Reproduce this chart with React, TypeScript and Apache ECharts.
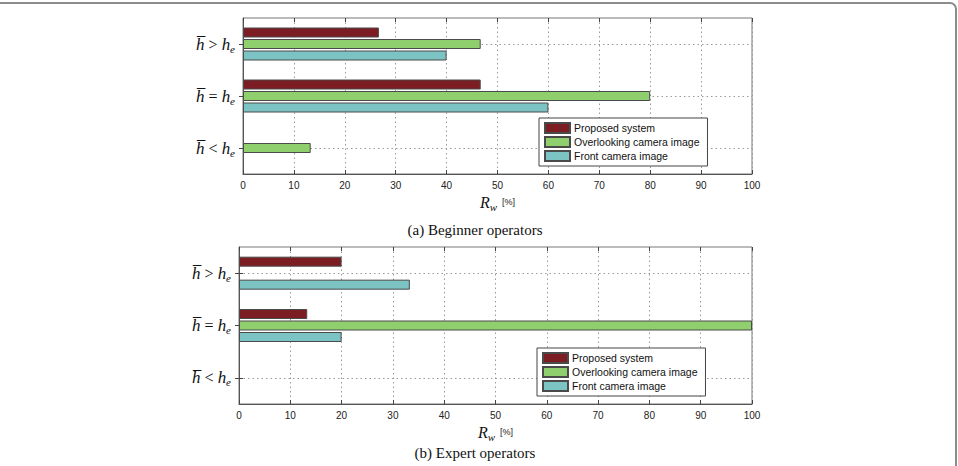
import React, { useEffect, useRef } from "react";
import * as echarts from "echarts";

// Relation between the operator's estimated height and the true height, top to bottom
const relations = [">", "=", "<"];
const seriesNames = ["Proposed system", "Overlooking camera image", "Front camera image"];
const xTicks = [0, 100, 10]; // min, max, step of R_w [%]

// R_w [%] for beginner operators (order follows `relations`)
const beginnerProposed = [26.7, 46.7, 0];
const beginnerOverlooking = [46.7, 80, 13.3];
const beginnerFront = [40, 60, 0];

// R_w [%] for expert operators
const expertProposed = [20, 13.3, 0];
const expertOverlooking = [0, 100, 0];
const expertFront = [33.3, 20, 0];

const captions = ["(a) Beginner operators", "(b) Expert operators"];

const colors = ["#7b1d22", "#8fcf6e", "#7cc3c4"];
const SERIF = "'Liberation Serif', 'DejaVu Serif', serif";
const SANS = "'Liberation Sans', Arial, sans-serif";

const catRich = {
  h: { fontFamily: SERIF, fontStyle: "italic", fontSize: 17, lineHeight: 20, color: "#111" },
  o: { fontFamily: SERIF, fontSize: 16, lineHeight: 20, color: "#111" },
  e: { fontFamily: SERIF, fontStyle: "italic", fontSize: 11, lineHeight: 11, verticalAlign: "bottom", color: "#111" },
};

const nameRich = {
  r: { fontFamily: SERIF, fontStyle: "italic", fontSize: 16, lineHeight: 20, color: "#111" },
  w: { fontFamily: SERIF, fontStyle: "italic", fontSize: 11, lineHeight: 11, verticalAlign: "bottom", color: "#111" },
  p: { fontFamily: SANS, fontSize: 9, lineHeight: 20, color: "#222" },
};

export default function App() {
  const ref = useRef<HTMLDivElement>(null);

  useEffect(() => {
    if (!ref.current) return;
    const chart = echarts.init(ref.current, undefined, { renderer: "svg" });

    const grids = [
      { left: 243, top: 18, width: 509, height: 156 },
      { left: 239, top: 247, width: 513, height: 157 },
    ];

    const xAxes: any[] = [];
    const yAxes: any[] = [];
    grids.forEach((_, gi) => {
      xAxes.push({
        gridIndex: gi,
        type: "value",
        min: xTicks[0],
        max: xTicks[1],
        interval: xTicks[2],
        name: "{r|R}{w|w}{p|  [%]}",
        nameLocation: "middle",
        nameGap: 18,
        nameTextStyle: { rich: nameRich },
        axisLine: { show: true, lineStyle: { color: "#555", width: 1 } },
        axisTick: { show: true, inside: true, length: 4, lineStyle: { color: "#444" } },
        axisLabel: { margin: 6, fontFamily: SANS, fontSize: 10, color: "#222" },
        splitLine: { show: true, lineStyle: { type: [1.5, 3], color: "#9a9a9a", width: 1 } },
      });
      xAxes.push({
        gridIndex: gi,
        type: "value",
        position: "top",
        min: xTicks[0],
        max: xTicks[1],
        interval: xTicks[2],
        axisLine: { show: false },
        axisTick: { show: true, inside: true, length: 4, lineStyle: { color: "#444" } },
        axisLabel: { show: false },
        splitLine: { show: false },
      });
      yAxes.push({
        gridIndex: gi,
        type: "category",
        inverse: true,
        data: relations,
        axisLine: { show: true, lineStyle: { color: "#555", width: 1 } },
        axisTick: { show: true, inside: true, length: 4, alignWithLabel: true, lineStyle: { color: "#444" } },
        axisLabel: {
          margin: 8,
          formatter: (v: string) => `{h|h\u0305}{o| ${v} }{h|h}{e|e}`,
          rich: catRich,
        },
        splitLine: { show: true, alignWithLabel: true, lineStyle: { type: [1.5, 3], color: "#9a9a9a", width: 1 } },
      });
      yAxes.push({
        gridIndex: gi,
        type: "category",
        inverse: true,
        position: "right",
        data: relations,
        axisLine: { show: false },
        axisTick: { show: true, inside: true, length: 4, alignWithLabel: true, lineStyle: { color: "#444" } },
        axisLabel: { show: false },
        splitLine: { show: false },
      });
    });

    const groups = [
      [beginnerProposed, beginnerOverlooking, beginnerFront],
      [expertProposed, expertOverlooking, expertFront],
    ];
    const series: any[] = [];
    groups.forEach((vals, gi) => {
      vals.forEach((data, si) => {
        series.push({
          type: "bar",
          name: seriesNames[si],
          xAxisIndex: gi * 2,
          yAxisIndex: gi * 2,
          // empty bars get no outline
          data: data.map((v) => (v === 0 ? { value: v, itemStyle: { borderWidth: 0 } } : v)),
          barWidth: 10,
          barGap: "15%",
          itemStyle: { color: colors[si], borderColor: "#4a4a4a", borderWidth: 1 },
        });
      });
    });

    const legendBase = {
      orient: "vertical",
      data: seriesNames,
      itemWidth: 25,
      itemHeight: 10,
      itemGap: 2,
      backgroundColor: "#fff",
      borderColor: "#444",
      borderWidth: 1,
      borderRadius: 0,
      padding: [4, 8, 4, 5],
      icon: "rect",
      textStyle: { fontFamily: SANS, fontSize: 10.5, color: "#111", padding: [0, 0, 0, -1] },
      selectedMode: false,
    };

    chart.setOption({
      animation: false,
      backgroundColor: "#fff",
      grid: grids.map((g) => ({ ...g, show: true, borderColor: "#777", borderWidth: 1, backgroundColor: "transparent" })),
      xAxis: xAxes,
      yAxis: yAxes,
      legend: [
        { ...legendBase, left: 539, top: 118 },
        { ...legendBase, left: 537, top: 348 },
      ],
      series,
      graphic: [
        {
          type: "rect",
          silent: true,
          shape: { x: -10, y: 3, width: 966, height: 520, r: 6 },
          style: { fill: "none", stroke: "#8c8c8c", lineWidth: 2 },
        },
        {
          type: "text",
          x: 475,
          y: 230,
          style: { text: captions[0], fontFamily: SERIF, fontSize: 15, fill: "#111", textAlign: "center", textVerticalAlign: "middle" },
        },
        {
          type: "text",
          x: 475,
          y: 453,
          style: { text: captions[1], fontFamily: SERIF, fontSize: 15, fill: "#111", textAlign: "center", textVerticalAlign: "middle" },
        },
      ],
    });

    return () => chart.dispose();
  }, []);

  return (
    <div
      ref={ref}
      style={{ position: "fixed", left: 0, top: 0, width: 958, height: 466, background: "#fff" }}
    />
  );
}
